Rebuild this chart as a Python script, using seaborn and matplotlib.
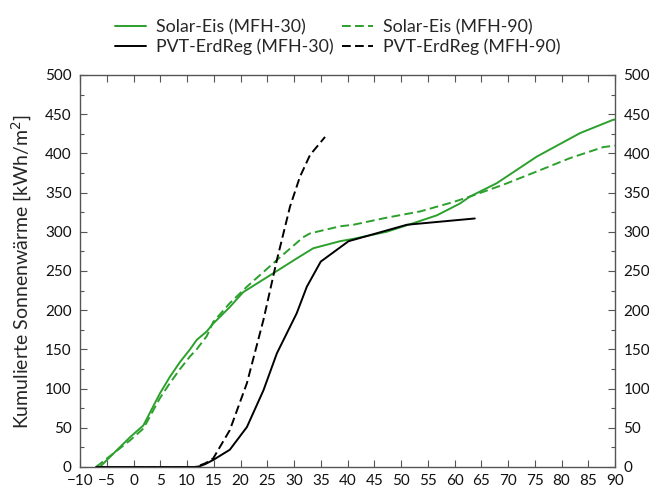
import numpy as np
import pandas as pd
import matplotlib
matplotlib.use("Agg")
import matplotlib.pyplot as plt
from matplotlib.ticker import MultipleLocator
import seaborn as sns

# Solar-Eis, MFH-30
se30_x = [-6.3, -0.65, 1.84, 4.95, 6.8, 8.7, 10.56, 11.8, 13.7, 14.9, 18.0, 20.5, 26.1,
          30.5, 33.6, 38.6, 41.1, 47.3, 52.3, 56.7, 61.0, 62.9, 67.9, 75.4, 83.5, 89.7, 90.0]
se30_y = [0, 38, 53, 94, 115, 134, 150, 162, 173, 183, 204, 223, 247,
          266, 279, 288, 291, 300, 311, 321, 336, 345, 362, 396, 426, 443, 443]

# Solar-Eis, MFH-90
se90_x = [-7.0, -0.65, 1.84, 4.95, 6.8, 8.7, 10.56, 11.8, 13.7, 14.9, 18.0, 21.2, 26.8,
          31.7, 33.0, 38.6, 41.1, 47.3, 53.6, 59.8, 62.9, 69.1, 75.4, 81.6, 87.8, 90.0]
se90_y = [0, 34, 49, 88, 107, 125, 141, 150, 167, 185, 209, 230, 264,
          293, 298, 307, 309, 318, 326, 338, 345, 360, 377, 394, 408, 410]

# PVT-ErdReg, MFH-30
pvt30_x = [-7.0, 11.5, 12.4, 13.5, 14.9, 18.0, 21.2, 24.3, 26.8, 30.5, 32.4, 35.0, 40.2, 51.1, 63.8]
pvt30_y = [0, 0, 1, 4, 9, 22, 51, 98, 145, 196, 230, 262, 288, 309, 317]

# PVT-ErdReg, MFH-90
pvt90_x = [-7.0, 11.5, 12.4, 13.5, 14.9, 18.0, 21.2, 24.3, 26.8, 29.25, 31.1, 33.0, 35.8]
pvt90_y = [0, 0, 2, 5, 11, 47, 107, 188, 264, 332, 370, 398, 421]

series_names = ["Solar-Eis (MFH-30)", "Solar-Eis (MFH-90)",
                "PVT-ErdReg (MFH-30)", "PVT-ErdReg (MFH-90)"]

x_ticks = list(range(-10, 95, 5))
y_ticks = list(range(0, 550, 50))

sns.set_style("ticks")
plt.rcParams["font.family"] = ["Lato", "DejaVu Sans"]

green = "#2ca02c"
black = "#000000"

frames = []
for name, xs, ys in zip(series_names,
                        [se30_x, se90_x, pvt30_x, pvt90_x],
                        [se30_y, se90_y, pvt30_y, pvt90_y]):
    frames.append(pd.DataFrame({"x": xs, "y": ys, "serie": name}))
df = pd.concat(frames, ignore_index=True)

fig = plt.figure(figsize=(6.49, 4.92), dpi=100)
ax = fig.add_axes([80 / 649, 25 / 492, 535 / 649, 392 / 492])

styles = {
    "Solar-Eis (MFH-30)": (green, "-"),
    "Solar-Eis (MFH-90)": (green, "--"),
    "PVT-ErdReg (MFH-30)": (black, "-"),
    "PVT-ErdReg (MFH-90)": (black, "--"),
}
for name in series_names:
    col, ls = styles[name]
    sub = df[df["serie"] == name]
    sns.lineplot(data=sub, x="x", y="y", ax=ax, color=col, linestyle=ls,
                 linewidth=1.4, label=name, sort=False, estimator=None)
    if ls == "--":
        ax.lines[-1].set_dashes((4.5, 2.2))

ax.set_xlim(-10, 90)
ax.set_ylim(0, 500)
ax.set_xticks(x_ticks)
ax.set_yticks(y_ticks)
ax.yaxis.set_minor_locator(MultipleLocator(25))
ax.set_xlabel("")
ax.set_ylabel("Kumulierte Sonnenwärme [kWh/m$^2$]", fontsize=14, labelpad=8)

for side in ["top", "right", "left", "bottom"]:
    ax.spines[side].set_visible(True)
    ax.spines[side].set_color("#555555")
    ax.spines[side].set_linewidth(1.0)

ax.tick_params(axis="both", which="both", direction="in", top=True, right=True,
               labelright=True, colors="#555555", labelcolor="#111111", labelsize=11)
ax.tick_params(axis="both", which="major", length=5, width=0.8)
ax.tick_params(axis="both", which="minor", length=3, width=0.8)
ax.tick_params(axis="x", which="major", pad=5)
ax.tick_params(axis="y", which="major", pad=6)

handles, labels = ax.get_legend_handles_labels()
order = [0, 2, 1, 3]
leg = ax.legend([handles[i] for i in order], [labels[i] for i in order],
                ncol=2, loc="upper center", bbox_to_anchor=(0.482, 1.165),
                frameon=False, fontsize=12.8, handlelength=1.75, borderpad=0,
                columnspacing=0.5, handletextpad=0.55, labelspacing=0.18)

fig.savefig("out.png", dpi=100)
